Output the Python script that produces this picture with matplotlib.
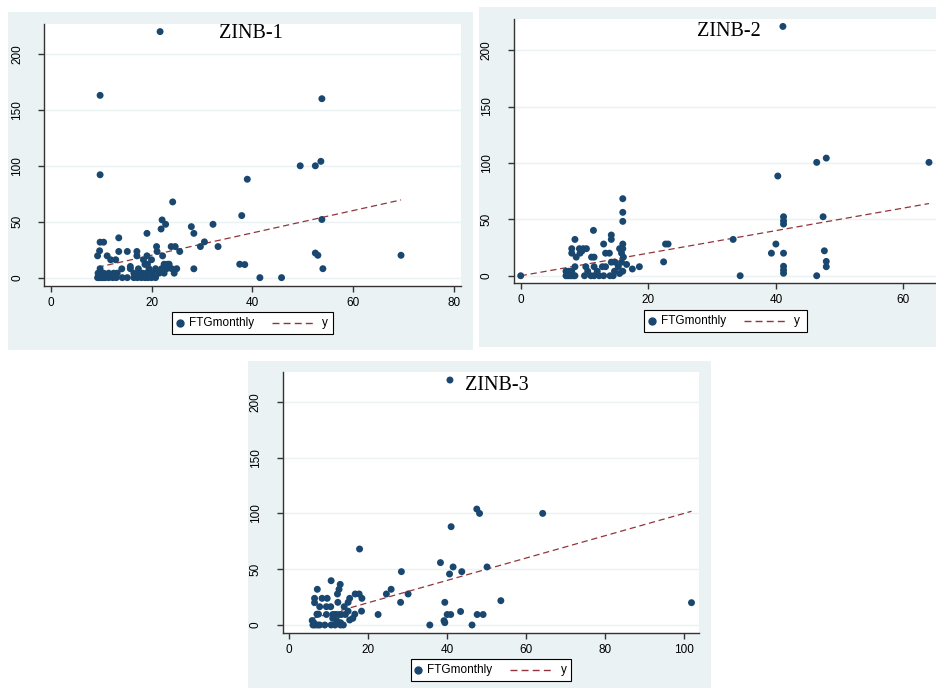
import matplotlib
matplotlib.use("Agg")
import matplotlib.pyplot as plt
from matplotlib.patches import Rectangle
from matplotlib.lines import Line2D

# ---- data (x = predicted, y = FTGmonthly) ----
zinb1_x = [21.7, 9.8, 9.8, 49.5, 52.5, 53.6, 53.8, 39.0, 37.9, 24.2, 22.1, 22.8, 21.9, 19.1,
           27.9, 28.4, 32.2, 13.5, 9.8, 10.5, 29.7, 30.5, 33.2, 38.5, 28.4, 25.6, 23.9, 24.7,
           21.0, 21.1, 22.2, 19.1, 17.1, 15.2, 13.5, 9.7, 9.3, 11.2, 11.9, 12.9, 17.1, 18.4,
           20.0, 14.1, 15.8, 15.8, 17.4, 18.7, 53.8, 52.5, 53.0, 69.5, 54.0, 41.5, 45.8, 37.5,
           9.3, 9.6, 9.9, 10.3, 10.8, 11.5, 12.3, 13.0, 14.2, 15.2, 16.5, 17.2, 18.0, 18.7,
           19.3, 20.0, 20.8, 9.4, 9.8, 10.5, 11.5, 12.5, 13.2, 16.5, 17.5, 18.2, 19.0, 19.5,
           20.2, 21.5, 22.0, 22.5, 23.0, 23.5, 24.0, 24.5, 25.0, 22.5, 23.2, 19.2, 20.8]
zinb1_y = [220, 163, 92, 100, 100, 104, 160, 88, 55.5, 67.7, 51.6, 47.7, 43.5, 39.6,
           45.6, 39.6, 47.7, 35.6, 31.7, 31.7, 27.8, 32, 27.8, 11.7, 7.9, 23.4, 27.8, 27.8,
           27.8, 23.4, 19.5, 19.5, 23.4, 23.4, 23.4, 24, 19.5, 19.5, 16, 16, 19.5, 16,
           16, 7.9, 10, 8, 7.9, 11.8, 52, 22, 20, 20, 8, 0, 0, 12,
           0, 0, 0, 0, 0, 0, 0, 0, 0, 0, 0, 0, 0, 0,
           0, 0, 0, 4, 8, 4, 4, 4, 4, 4, 4, 4, 4, 8,
           4, 4, 8, 4, 8, 12, 8, 4, 8, 12, 12, 12, 8]

zinb2_x = [0.0, 41.1, 40.3, 46.4, 47.9, 64.0, 41.2, 41.2, 41.2, 47.4, 33.3, 40.0, 39.3, 41.2,
           47.6, 47.9, 47.9, 41.2, 41.2, 41.2, 34.4, 46.4,
           16.0, 16.0, 16.0, 11.4, 14.2, 14.2, 13.0, 16.0, 8.5, 8.0, 8.0, 9.2, 9.8, 10.3,
           9.6, 9.3, 8.7, 11.1, 11.5, 13.3, 13.9, 15.5, 16.0, 15.8, 16.1, 14.2, 14.8, 15.8,
           16.6, 17.5, 18.6, 22.4, 22.7, 23.1,
           7.1, 7.4, 7.7, 8.0, 8.3, 8.5, 7.1, 7.5, 8.0, 8.5, 10.2, 11.5, 12.8, 13.3, 10.0,
           11.0, 11.5, 12.3, 13.0, 14.0, 14.5, 14.7, 15.5, 12.0, 10.5, 16.0, 15.3]
zinb2_y = [0, 221, 88.4, 100.5, 104.3, 100.5, 52.3, 48.7, 45.8, 52.3, 32.2, 28.1, 20, 20,
           22.1, 12.7, 8, 8.4, 5.1, 2.2, 0, 0,
           68.3, 56.2, 48.2, 40.2, 36.1, 32.2, 28.1, 28.1, 32.2, 24, 20, 24, 24, 24,
           22, 20, 16.5, 16.5, 16.5, 20, 20, 24, 24, 20, 16.5, 12, 12, 12,
           10, 6, 8, 12.3, 28.1, 28.1,
           0, 0, 0, 0, 0, 0, 4, 4, 4, 8, 8, 8, 8, 8, 0,
           0, 0, 0, 0, 0, 0, 4, 2, 4, 4, 4, 8]

zinb3_x = [40.7, 47.5, 48.2, 64.2, 41.0, 17.8, 38.3, 41.5, 50.1, 40.6, 43.7, 28.4, 10.6, 7.1,
           12.9, 12.6, 12.2, 16.7, 17.7, 18.4, 15.3, 6.4, 8.3, 9.6, 6.4, 12.3, 7.7, 9.4,
           10.5, 13.9, 14.9, 18.3, 16.6, 14.9, 7.0, 7.4, 9.4, 11.0, 11.6, 12.6, 13.2, 14.2,
           6.0, 6.5, 7.2, 7.7, 9.0, 10.6, 11.6, 13.0, 13.7, 15.3, 16.1, 22.5, 24.6, 25.8,
           28.2, 30.1, 35.6, 39.4, 39.2, 39.4, 40.0, 40.9, 43.4, 46.3, 47.6, 49.1, 53.6, 101.9,
           5.8, 6.2, 12.0, 13.0, 11.0]
zinb3_y = [219.5, 103.9, 100, 100, 88.1, 68.1, 55.9, 52, 52, 45.7, 47.8, 47.8, 39.7, 32,
           36.4, 32, 27.8, 27.8, 27.8, 23.9, 23.9, 23.9, 23.9, 23.9, 20, 20.3, 16.4, 16.4,
           16.4, 16.4, 20.3, 12.4, 9.7, 12.4, 9.7, 9.7, 9.4, 9.4, 9.4, 9.4, 9.4, 9.4,
           0, 0, 0, 0, 0, 0, 0, 0, 0, 4.5, 6, 9.4, 27.8, 32,
           20.3, 27.8, 0, 20.3, 3.9, 2.1, 9.4, 9.4, 12.1, 0, 9.4, 9.4, 21.8, 20,
           4, 2, 4, 2, 6]

titles = ["ZINB-1", "ZINB-2", "ZINB-3"]
legend_labels = ["FTGmonthly", "y"]
xticks = [[0, 20, 40, 60, 80], [0, 20, 40, 60], [0, 20, 40, 60, 80, 100]]
yticks = [0, 50, 100, 150, 200]

W, H = 936, 688
bg = "#EAF2F3"
navy = "#1A476F"
maroon = "#90353B"
dash = (0, (5, 3))

fig = plt.figure(figsize=(W / 100, H / 100), dpi=100)


def fx(x):
    return x / W


def fy(y):
    return 1 - y / H


def box(l, t, r, b):
    return [fx(l), fy(b), (r - l) / W, (b - t) / H]


def draw_legend(l, t, r, b):
    # Stata-style legend: square box, marker key, dashed key
    fig.add_artist(Rectangle((fx(l), fy(b)), (r - l) / W, (b - t) / H, transform=fig.transFigure,
                             facecolor="white", edgecolor="black", lw=0.8, zorder=5))
    cy = fy((t + b) / 2)
    fig.add_artist(Line2D([fx(l + 7.5)], [cy], transform=fig.transFigure, ls="none",
                          marker="o", ms=5, color=navy, zorder=6))
    fig.text(fx(l + 17), cy, legend_labels[0], ha="left", va="center", fontsize=8.5,
             family="Liberation Sans", zorder=6)
    fig.add_artist(Line2D([fx(l + 100), fx(l + 143.5)], [cy, cy], transform=fig.transFigure,
                          color=maroon, lw=1, ls=dash, zorder=6))
    fig.text(fx(l + 150), cy, legend_labels[1], ha="left", va="center", fontsize=8.5,
             family="Liberation Sans", zorder=6)


# panel background boxes and plot areas, in pixels (left, top, right, bottom)
panels = [
    dict(bg=(8, 12, 473, 350), ax=(44, 24, 461, 285.7), xlim=(-1.33, 81.4), ylim=(-7.2, 226.8),
         title=(250.5, 33), leg=(172, 312, 333, 334)),
    dict(bg=(479.5, 7.5, 936, 347), ax=(513.7, 19, 936, 283.3), xlim=(-1.1, 65.1), ylim=(-6.7, 227.6),
         title=(728.5, 31), leg=(644, 309.5, 807, 332)),
    dict(bg=(248, 360.5, 711, 688), ax=(282.7, 372, 699, 632.7), xlim=(-1.67, 103.8), ylim=(-6.9, 226.7),
         title=(497, 385), leg=(410.5, 658.5, 571, 681)),
]
data = [(zinb1_x, zinb1_y), (zinb2_x, zinb2_y), (zinb3_x, zinb3_y)]

for i, p in enumerate(panels):
    l, t, r, b = p["bg"]
    fig.patches.append(Rectangle((fx(l), fy(b)), (r - l) / W, (b - t) / H,
                                 transform=fig.transFigure, facecolor=bg, edgecolor="none", zorder=-5))
    ax = fig.add_axes(box(*p["ax"]))
    ax.set_zorder(1)
    ax.set_facecolor("white")
    xs, ys = data[i]
    ax.scatter(xs, ys, s=25, color=navy, edgecolors="none", zorder=3)
    lo, hi = min(xs), max(xs)
    ax.plot([lo, hi], [lo, hi], color=maroon, lw=0.9, ls=dash, zorder=2)
    ax.set_xlim(*p["xlim"])
    ax.set_ylim(*p["ylim"])
    ax.set_xticks(xticks[i])
    ax.set_yticks(yticks)
    ax.set_yticklabels([str(v) for v in yticks], rotation=90, va="center")
    for v in yticks:
        ax.axhline(v, color=bg, lw=1, zorder=1)
    for s in ["top", "right"]:
        ax.spines[s].set_visible(False)
    for s in ["left", "bottom"]:
        ax.spines[s].set_color("#333333")
        ax.spines[s].set_linewidth(1)
    ax.tick_params(axis="both", direction="out", length=4, width=1, color="#333333",
                   labelsize=8.5, labelcolor="black")
    ax.tick_params(axis="y", pad=11)
    ax.tick_params(axis="x", pad=4)
    for lab in ax.get_xticklabels() + ax.get_yticklabels():
        lab.set_fontfamily("Liberation Sans")

    tx, ty = p["title"]
    fig.text(fx(tx), fy(ty), titles[i], ha="center", va="center",
             fontsize=14.5, family="Liberation Serif", zorder=10)

    draw_legend(*p["leg"])

fig.savefig("out.png", dpi=100, facecolor="white")
